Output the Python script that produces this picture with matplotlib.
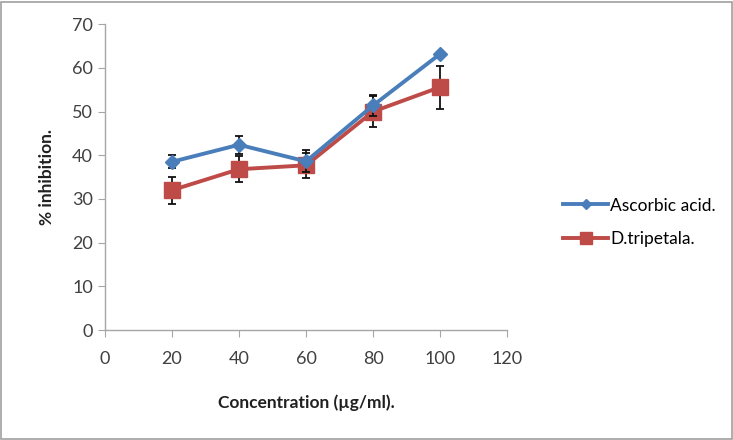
import matplotlib
matplotlib.use('Agg')
import matplotlib.pyplot as plt
from matplotlib.patches import Rectangle

# concentrations (ug/ml)
conc = [20, 40, 60, 80, 100]

# % inhibition with error estimates
ascorbic = [38.5, 42.4, 38.6, 51.4, 63.2]
ascorbic_err = [1.5, 2.1, 2.5, 2.4, 0.5]
tripetala = [32.0, 36.8, 37.7, 50.0, 55.6]
tripetala_err = [3.1, 3.0, 2.9, 3.6, 4.9]

xticks = [0, 20, 40, 60, 80, 100, 120]
yticks = [0, 10, 20, 30, 40, 50, 60, 70]

plt.rcParams['font.family'] = ['Lato', 'DejaVu Sans']

fig = plt.figure(figsize=(7.33, 4.4), dpi=100)
ax = fig.add_axes([0.143, 0.25, 0.549, 0.695])

blue = '#4a7ebb'
red = '#be4b48'

ax.errorbar(conc, ascorbic, yerr=ascorbic_err, color=blue, lw=2.8, marker='D',
            ms=7, ecolor='#111111', elinewidth=1.3, capsize=3, capthick=1.3,
            label='Ascorbic acid.', zorder=3)
ax.errorbar(conc, tripetala, yerr=tripetala_err, color=red, lw=2.8, marker='s',
            ms=11, ecolor='#111111', elinewidth=1.3, capsize=3, capthick=1.3,
            label='D.tripetala.', zorder=2)

ax.set_xlim(0, 120)
ax.set_ylim(0, 70)
ax.set_xticks(xticks)
ax.set_yticks(yticks)
for s in ['top', 'right']:
    ax.spines[s].set_visible(False)
for s in ['left', 'bottom']:
    ax.spines[s].set_color('#a6a6a6')
    ax.spines[s].set_linewidth(1.0)
ax.tick_params(axis='both', colors='#a6a6a6', labelcolor='#404040',
               labelsize=13, length=5, direction='out')
ax.tick_params(axis='x', pad=10)

ax.set_xlabel('Concentration (\u00b5g/ml).', fontsize=12.5, fontweight='bold',
              labelpad=20, color='#202020')
ax.set_ylabel('% inhibition.', fontsize=12.5, fontweight='bold', labelpad=12,
              color='#202020')

handles, labels = ax.get_legend_handles_labels()
handles = [h[0] for h in handles]
fig.legend(handles, labels, loc='center left', bbox_to_anchor=(0.747, 0.495),
           frameon=False, fontsize=12.5, handlelength=2.6, handletextpad=0.1,
           labelspacing=1.0, markerscale=0.8)

fig.patches.append(Rectangle((0.002, 0.002), 0.996, 0.994, transform=fig.transFigure,
                             fill=False, edgecolor='#a0a0a0', lw=1.2))

fig.savefig('out.png', dpi=100)
